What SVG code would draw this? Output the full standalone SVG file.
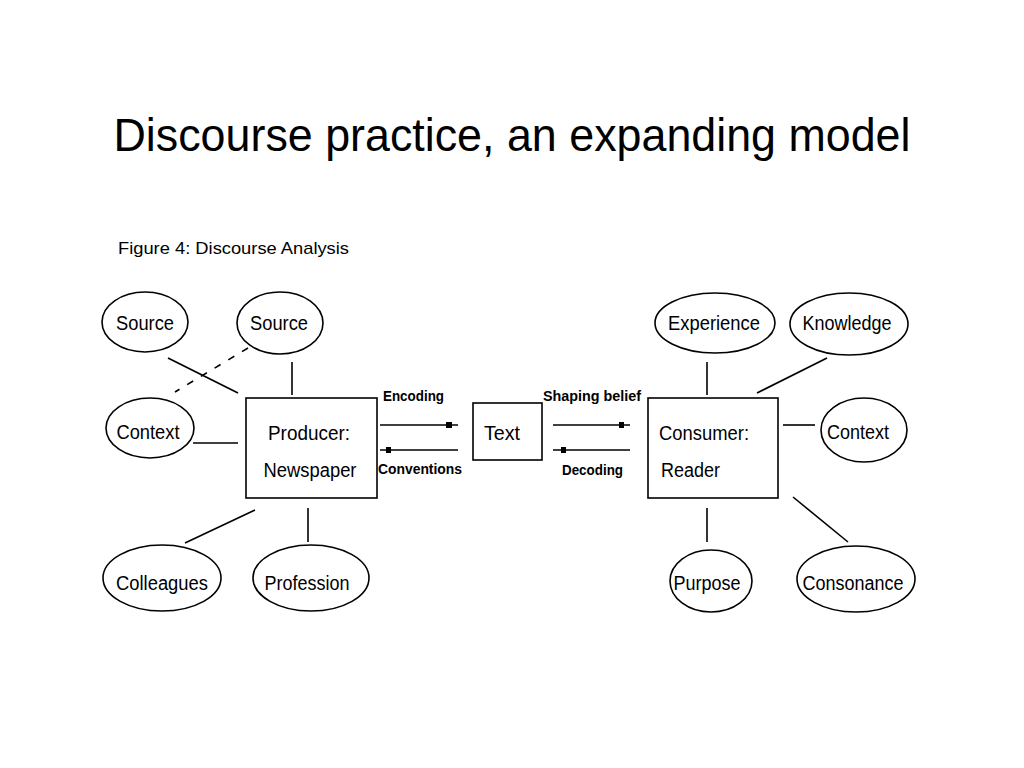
<svg xmlns="http://www.w3.org/2000/svg" width="1024" height="768" viewBox="0 0 1024 768">
<style>
.bg{fill:#ffffff}
.node ellipse,.node rect{fill:#ffffff;stroke:#000;stroke-width:1.6}
.lbl{font-family:"Liberation Sans",Arial,sans-serif;font-size:20px;fill:#000;text-anchor:middle}
.lbls{font-family:"Liberation Sans",Arial,sans-serif;font-size:20px;fill:#000}
.small{font-family:"Liberation Sans",Arial,sans-serif;font-size:14px;font-weight:bold;fill:#000}
.conn line{stroke:#000;stroke-width:1.6}
.dash{stroke-dasharray:7 9}
.title{font-family:"Liberation Sans",Arial,sans-serif;font-size:46px;fill:#000;text-anchor:middle}
.cap{font-family:"Liberation Sans",Arial,sans-serif;font-size:17px;fill:#000}
</style>
<rect class="bg" x="0" y="0" width="1024" height="768"/>
<text class="title" x="512" y="151" textLength="797" lengthAdjust="spacingAndGlyphs">Discourse practice, an expanding model</text>
<text class="cap" x="118" y="254" textLength="231" lengthAdjust="spacingAndGlyphs">Figure 4: Discourse Analysis</text>

<g id="connectors" class="conn">
<line x1="168" y1="358" x2="238" y2="393"/>
<line class="dash" x1="248" y1="348" x2="175" y2="392"/>
<line x1="292" y1="362" x2="292" y2="395"/>
<line x1="193" y1="443" x2="238" y2="443"/>
<line x1="255" y1="510" x2="185" y2="543"/>
<line x1="308" y1="508" x2="308" y2="542"/>
<line x1="380" y1="425" x2="458" y2="425"/>
<line x1="380" y1="450" x2="458" y2="450"/>
<line x1="553" y1="425" x2="630" y2="425"/>
<line x1="553" y1="450" x2="630" y2="450"/>
<line x1="707" y1="362" x2="707" y2="395"/>
<line x1="827" y1="358" x2="757" y2="393"/>
<line x1="783" y1="425" x2="815" y2="425"/>
<line x1="707" y1="508" x2="707" y2="542"/>
<line x1="793" y1="497" x2="848" y2="542"/>
<rect x="446" y="422" width="6" height="6" fill="#000"/>
<rect x="386" y="447" width="5" height="6" fill="#000"/>
<rect x="619" y="422" width="5" height="6" fill="#000"/>
<rect x="561" y="447" width="5" height="6" fill="#000"/>
<text class="small" x="383" y="401" textLength="61" lengthAdjust="spacingAndGlyphs">Encoding</text>
<text class="small" x="378" y="474" textLength="84" lengthAdjust="spacingAndGlyphs">Conventions</text>
<text class="small" x="543" y="401" textLength="98" lengthAdjust="spacingAndGlyphs">Shaping belief</text>
<text class="small" x="562" y="475" textLength="61" lengthAdjust="spacingAndGlyphs">Decoding</text>
</g>

<g id="source1" class="node"><ellipse cx="145" cy="322" rx="43" ry="30"/><text class="lbl" x="145" y="330" textLength="58" lengthAdjust="spacingAndGlyphs">Source</text></g>
<g id="source2" class="node"><ellipse cx="280" cy="323" rx="43" ry="31"/><text class="lbl" x="279" y="330" textLength="58" lengthAdjust="spacingAndGlyphs">Source</text></g>
<g id="context-left" class="node"><ellipse cx="150" cy="428" rx="44" ry="30"/><text class="lbl" x="148" y="439" textLength="63" lengthAdjust="spacingAndGlyphs">Context</text></g>
<g id="producer" class="node"><rect x="246" y="398" width="131" height="100"/><text class="lbl" x="309" y="440" textLength="82" lengthAdjust="spacingAndGlyphs">Producer:</text><text class="lbl" x="310" y="477" textLength="93" lengthAdjust="spacingAndGlyphs">Newspaper</text></g>
<g id="colleagues" class="node"><ellipse cx="162" cy="578" rx="59" ry="33"/><text class="lbl" x="162" y="590" textLength="92" lengthAdjust="spacingAndGlyphs">Colleagues</text></g>
<g id="profession" class="node"><ellipse cx="311" cy="578" rx="58" ry="33"/><text class="lbl" x="307" y="590" textLength="85" lengthAdjust="spacingAndGlyphs">Profession</text></g>
<g id="text" class="node"><rect x="473" y="403" width="69" height="57"/><text class="lbl" x="502" y="440" textLength="36" lengthAdjust="spacingAndGlyphs">Text</text></g>
<g id="experience" class="node"><ellipse cx="715" cy="323" rx="60" ry="30"/><text class="lbl" x="714" y="330" textLength="92" lengthAdjust="spacingAndGlyphs">Experience</text></g>
<g id="knowledge" class="node"><ellipse cx="849" cy="324" rx="59" ry="31"/><text class="lbl" x="847" y="330" textLength="89" lengthAdjust="spacingAndGlyphs">Knowledge</text></g>
<g id="consumer" class="node"><rect x="648" y="398" width="130" height="100"/><text class="lbls" x="659" y="440" textLength="90" lengthAdjust="spacingAndGlyphs">Consumer:</text><text class="lbls" x="661" y="477" textLength="59" lengthAdjust="spacingAndGlyphs">Reader</text></g>
<g id="context-right" class="node"><ellipse cx="864" cy="430" rx="43" ry="32"/><text class="lbl" x="858" y="439" textLength="62" lengthAdjust="spacingAndGlyphs">Context</text></g>
<g id="purpose" class="node"><ellipse cx="711" cy="581" rx="41" ry="31"/><text class="lbl" x="707" y="590" textLength="67" lengthAdjust="spacingAndGlyphs">Purpose</text></g>
<g id="consonance" class="node"><ellipse cx="856" cy="579" rx="59" ry="33"/><text class="lbl" x="853" y="590" textLength="101" lengthAdjust="spacingAndGlyphs">Consonance</text></g>
</svg>
